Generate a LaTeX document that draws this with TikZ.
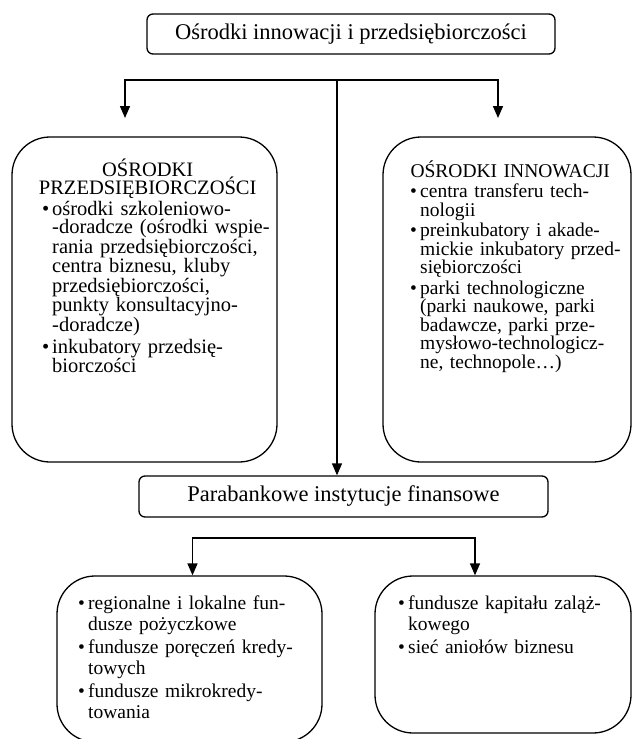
\documentclass[tikz,border=0pt]{standalone}
\usepackage{fontspec}
\setmainfont{Liberation Serif}
\usetikzlibrary{arrows.meta,positioning}

\tolerance=10000
\hyphenpenalty=10000
\hbadness=10000

\newcommand{\tytul}[1]{{\centering #1\par}}
\newcommand{\pkt}[1]{\noindent\hangindent=10pt\hangafter=1\makebox[10pt][l]{\textbullet}{\let\\\newline #1}\par}

\begin{document}
\begin{tikzpicture}[x=1pt, y=-1pt,
    naglowek/.style={draw, rectangle, rounded corners=6pt, line width=1.3pt, minimum height=40pt, font=\fontsize{22.5}{26}\selectfont},
    blok/.style={draw, rectangle, rounded corners=38pt, line width=1.3pt},
    tresc/.style={inner sep=0pt, anchor=base west, font=\fontsize{19.5}{18.5}\selectfont},
    tresc2/.style={tresc, font=\fontsize{19.5}{21}\selectfont},
    strzalka/.style={-{Triangle[length=12pt,width=10pt]}, line width=1.4pt}
]
\useasboundingbox (0,0) rectangle (633,739);

\node[naglowek, minimum width=408pt] (osrodki) at (351,34) {Ośrodki innowacji i przedsiębiorczości};

\node[blok, minimum width=265pt, minimum height=325pt] (przeds) at (144.5,299.5) {};
\node[blok, minimum width=248pt, minimum height=325pt] (innow) at (507,299.5) {};

\node[naglowek, minimum width=409pt, minimum height=41pt] (para) at (343.5,496.5) {Parabankowe instytucje finansowe};

\node[blok, minimum width=265pt, minimum height=166pt] (fpoz) at (189.5,659) {};
\node[blok, minimum width=256pt, minimum height=157pt] (fkap) at (503,654.5) {};

\node[tresc, text width=245pt, font=\fontsize{20.5}{18.5}\selectfont] (przeds-txt) at (25,176) {\tytul{OŚRODKI\\PRZEDSIĘBIORCZOŚCI}\leftskip=17pt\parskip=2pt
\pkt{ośrodki szkoleniowo-\\-doradcze (ośrodki wspie-\\rania przedsiębiorczości,\\centra biznesu, kluby\\przedsiębiorczości,\\punkty konsultacyjno-\\-doradcze)}
\pkt{inkubatory przedsię-\\biorczości}};

\node[tresc, text width=224pt] (innow-txt) at (398,177) {\tytul{OŚRODKI INNOWACJI}\leftskip=12pt\parskip=2pt
\pkt{centra transferu tech-\\nologii}
\pkt{preinkubatory i akade-\\mickie inkubatory przed-\\siębiorczości}
\pkt{parki technologiczne\\(parki naukowe, parki\\badawcze, parki prze-\\mysłowo-technologicz-\\ne, technopole…)}};

\node[tresc2, text width=220pt] (fpoz-txt) at (78,609) {\parskip=2pt
\pkt{regionalne i lokalne fun-\\dusze pożyczkowe}
\pkt{fundusze poręczeń kredy-\\towych}
\pkt{fundusze mikrokredy-\\towania}};

\node[tresc2, text width=220pt] (fkap-txt) at (398,609) {\parskip=2pt
\pkt{fundusze kapitału zaląż-\\kowego}
\pkt{sieć aniołów biznesu}};

\coordinate (w) at (337,80);
\coordinate (gl) at (125,118);
\coordinate (gr) at (498,118);
\draw[strzalka] (w) -| (gl);
\draw[strzalka] (w) -| (gr);
\draw[strzalka] (w) -- (w |- para.north);

\coordinate (d) at (333,538);
\draw[strzalka] (d) -| ([xshift=3pt]fpoz.north);
\draw[strzalka] (d) -| ([xshift=-28pt]fkap.north);

\end{tikzpicture}
\end{document}
